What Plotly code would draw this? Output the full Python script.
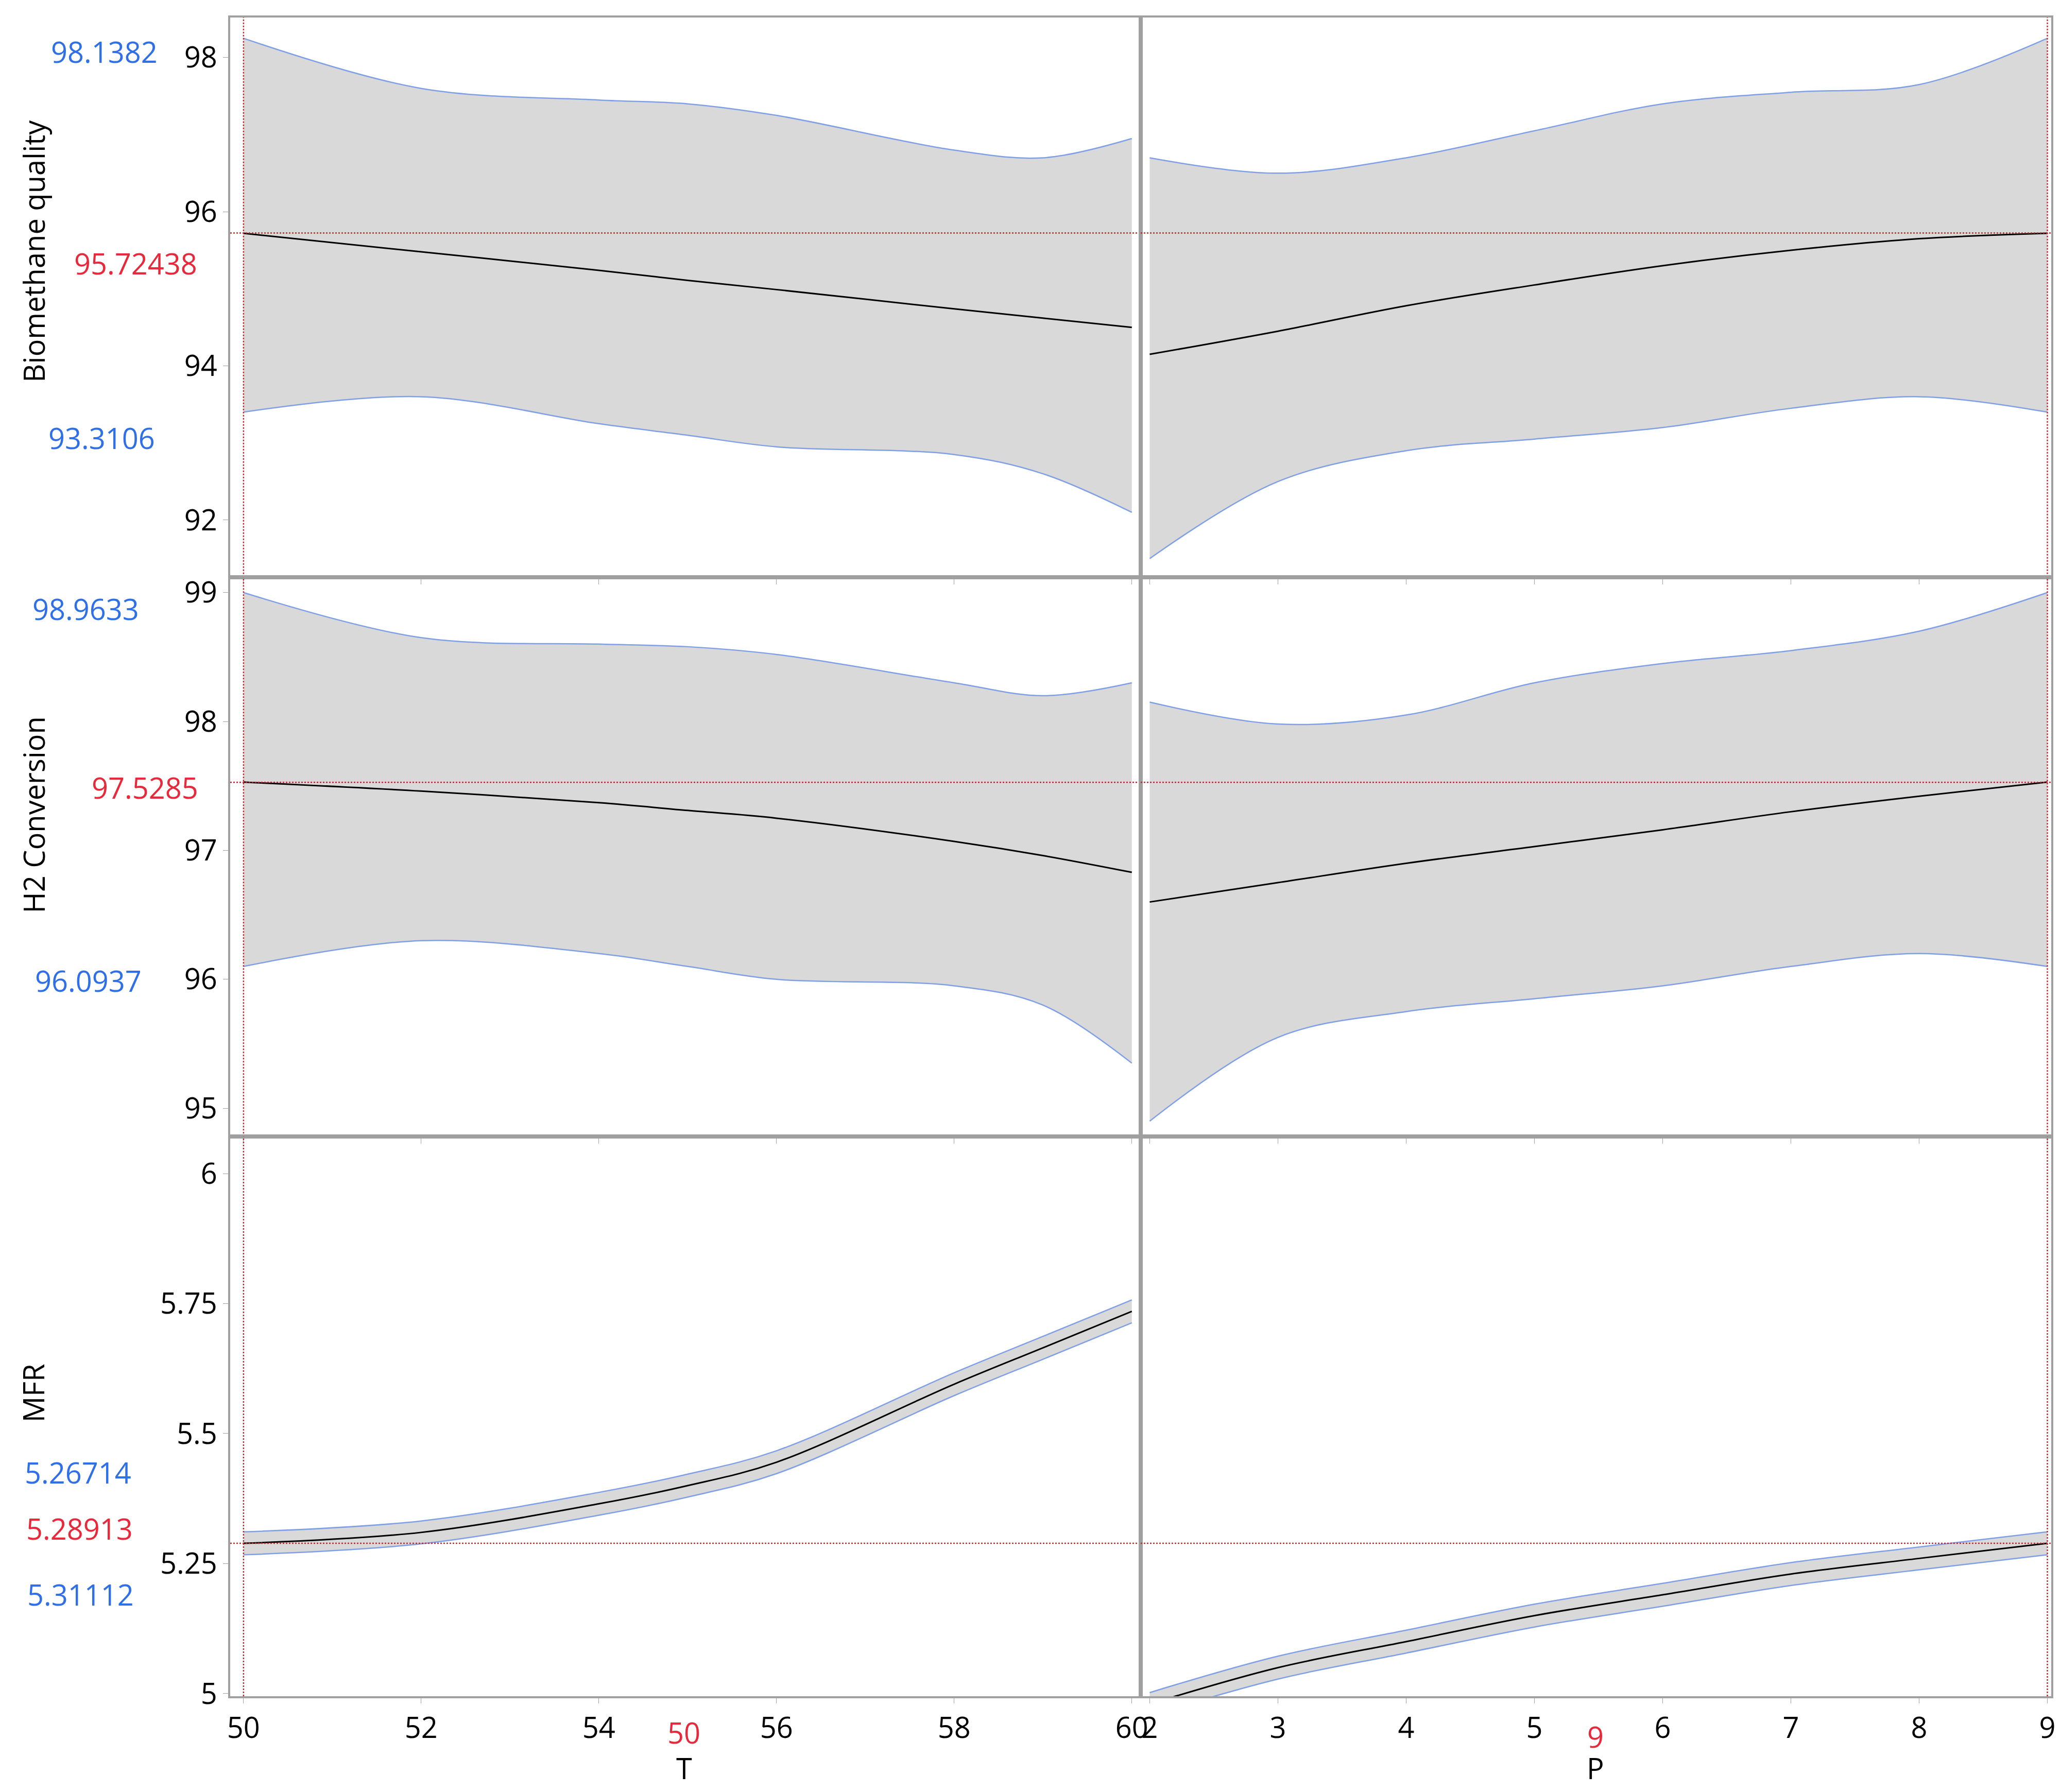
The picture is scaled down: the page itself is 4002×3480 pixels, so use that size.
import plotly.graph_objects as go
from plotly.subplots import make_subplots

T = [50, 52, 54, 55, 56, 58, 59, 60]
P = [2, 3, 4, 5, 6, 7, 8, 9]

bq_T_mean = [95.72, 95.48, 95.24, 95.11, 94.99, 94.74, 94.62, 94.50]
bq_T_up = [98.25, 97.6, 97.45, 97.4, 97.25, 96.8, 96.7, 96.95]
bq_T_lo = [93.4, 93.6, 93.25, 93.1, 92.95, 92.85, 92.6, 92.1]
bq_P_mean = [94.15, 94.45, 94.78, 95.05, 95.3, 95.5, 95.65, 95.72]
bq_P_up = [96.7, 96.5, 96.7, 97.05, 97.4, 97.55, 97.65, 98.25]
bq_P_lo = [91.5, 92.5, 92.9, 93.05, 93.2, 93.45, 93.6, 93.4]

h2_T_mean = [97.53, 97.46, 97.37, 97.31, 97.25, 97.07, 96.96, 96.83]
h2_T_up = [99.0, 98.65, 98.6, 98.58, 98.52, 98.3, 98.2, 98.3]
h2_T_lo = [96.1, 96.3, 96.2, 96.1, 96.0, 95.95, 95.8, 95.35]
h2_P_mean = [96.6, 96.75, 96.9, 97.03, 97.16, 97.3, 97.42, 97.53]
h2_P_up = [98.15, 97.98, 98.05, 98.3, 98.45, 98.55, 98.7, 99.0]
h2_P_lo = [94.9, 95.55, 95.75, 95.85, 95.95, 96.1, 96.2, 96.1]

mfr_T_mean = [5.289, 5.31, 5.365, 5.40, 5.445, 5.595, 5.665, 5.735]
mfr_P_mean = [4.98, 5.05, 5.10, 5.15, 5.19, 5.23, 5.26, 5.289]
mfr_band = 0.022

cur_T, cur_P = 50, 9
cur_vals = [95.72438, 97.5285, 5.28913]
y_titles = ["Biomethane quality", "H2 Conversion", "MFR"]
y_ranges = [[91.26, 98.52], [94.78, 99.12], [4.995, 6.071]]
y_ticks = [[92, 94, 96, 98], [95, 96, 97, 98, 99], [5, 5.25, 5.5, 5.75, 6]]

series = [
    [(T, bq_T_mean, bq_T_up, bq_T_lo), (P, bq_P_mean, bq_P_up, bq_P_lo)],
    [(T, h2_T_mean, h2_T_up, h2_T_lo), (P, h2_P_mean, h2_P_up, h2_P_lo)],
    [(T, mfr_T_mean, [v + mfr_band for v in mfr_T_mean], [v - mfr_band for v in mfr_T_mean]),
     (P, mfr_P_mean, [v + mfr_band for v in mfr_P_mean], [v - mfr_band for v in mfr_P_mean])],
]

fig = make_subplots(rows=3, cols=2, horizontal_spacing=0, vertical_spacing=0, shared_xaxes=True)
FS = 56
for r in range(3):
    for c in range(2):
        x, m, up, lo = series[r][c]
        fig.add_trace(go.Scatter(x=x, y=lo, mode="lines", line=dict(color="#7f9fe6", width=2.5, shape="spline"),
                                 showlegend=False, hoverinfo="skip"), row=r + 1, col=c + 1)
        fig.add_trace(go.Scatter(x=x, y=up, mode="lines", line=dict(color="#7f9fe6", width=2.5, shape="spline"),
                                 fill="tonexty", fillcolor="#d9d9d9", showlegend=False), row=r + 1, col=c + 1)
        fig.add_trace(go.Scatter(x=x, y=m, mode="lines", line=dict(color="black", width=3, shape="spline"),
                                 showlegend=False), row=r + 1, col=c + 1)
        xr = [49.85, 60.1] if c == 0 else [1.93, 9.03]
        fig.add_trace(go.Scatter(x=xr, y=[cur_vals[r]] * 2, mode="lines",
                                 line=dict(color="#c0282d", width=2.5, dash="dot"), showlegend=False),
                      row=r + 1, col=c + 1)
        cx = cur_T if c == 0 else cur_P
        fig.add_trace(go.Scatter(x=[cx, cx], y=y_ranges[r], mode="lines",
                                 line=dict(color="#c0282d", width=2.5, dash="dot"), showlegend=False),
                      row=r + 1, col=c + 1)
        fig.update_xaxes(range=xr, showline=True, mirror=True, linecolor="#a0a0a0", linewidth=4,
                         showgrid=False, zeroline=False, ticks="outside", ticklen=10, tickcolor="#a0a0a0",
                         tickfont=dict(size=FS, color="black"), row=r + 1, col=c + 1,
                         tickvals=([50, 52, 54, 56, 58, 60] if c == 0 else [2, 3, 4, 5, 6, 7, 8, 9]))
        fig.update_yaxes(range=y_ranges[r], showline=True, mirror=True, linecolor="#a0a0a0", linewidth=4,
                         showgrid=False, zeroline=False, tickvals=y_ticks[r], showticklabels=(c == 0),
                         ticks="outside" if c == 0 else "", ticklen=10, tickcolor="#a0a0a0",
                         tickfont=dict(size=FS, color="black"), row=r + 1, col=c + 1)

W, H = 4002, 3480
L, R, Tm, B = 439, 20, 26, 194
pw, ph = W - L - R, H - Tm - B
def px(xd): return (xd * 2.552 - L) / pw
def py(yd): return 1 - (yd * 2.552 - Tm) / ph

ann = []
for r, t in enumerate(y_titles):
    yc = [188, 617, 1057][r]
    ann.append(dict(text=t, x=px(22), y=py(yc), xref="paper", yref="paper", textangle=-90,
                    xanchor="center", yanchor="middle",
                    showarrow=False, font=dict(size=FS, color="black")))
labels = [
    ("98.1382", 76, 36, "#2f6fe8"), ("95.72438", 100, 197, "#e8293b"), ("93.3106", 74, 330, "#2f6fe8"),
    ("98.9633", 62, 460, "#2f6fe8"), ("97.5285", 107, 596, "#e8293b"), ("96.0937", 64, 743, "#2f6fe8"),
    ("5.26714", 56, 1117, "#2f6fe8"), ("5.28913", 57, 1160, "#e8293b"), ("5.31112", 58, 1210, "#2f6fe8"),
    ("50", 518, 1315, "#e8293b"), ("9", 1213, 1318, "#e8293b"),
    ("T", 518, 1342, "black"), ("P", 1213, 1342, "black"),
]
for t, xd, yd, col in labels:
    ann.append(dict(text=t, x=px(xd), y=py(yd), xref="paper", yref="paper", showarrow=False,
                    font=dict(size=FS, color=col), xanchor="center", yanchor="middle"))

fig.update_layout(width=W, height=H, margin=dict(l=L, r=R, t=Tm, b=B),
                  plot_bgcolor="white", paper_bgcolor="white",
                  font=dict(family="Open Sans", size=FS), annotations=ann)
fig.write_html("out.html")
